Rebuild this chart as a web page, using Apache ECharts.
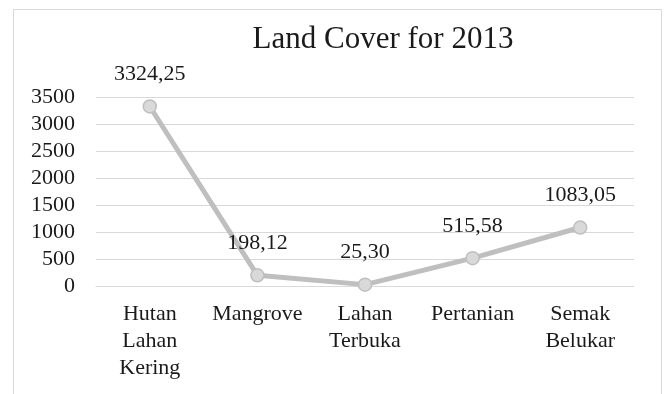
<!DOCTYPE html>
<html>
<head>
<meta charset="utf-8">
<script src="https://cdn.jsdelivr.net/npm/echarts@6/dist/echarts.min.js"></script>
<style>
  html, body { margin: 0; padding: 0; background: #fff; }
  #chart { width: 670px; height: 394px; }
</style>
</head>
<body>
<div id="chart"></div>
<script>
// Land cover areas for 2013
const categories = ['Hutan\nLahan\nKering', 'Mangrove', 'Lahan\nTerbuka', 'Pertanian', 'Semak\nBelukar'];
const areaValues = [3324.25, 198.12, 25.30, 515.58, 1083.05];
const yTicks = { min: 0, max: 3500, interval: 500 };

const FONT = '"Liberation Serif", "DejaVu Serif", serif';
const TEXT = '#1a1a1a';

const chart = echarts.init(document.getElementById('chart'), null, { renderer: 'canvas' });

chart.setOption({
  backgroundColor: '#ffffff',
  animation: false,
  graphic: [{
    type: 'rect',
    shape: { x: 13.5, y: 9.5, width: 648, height: 420 },
    style: { fill: 'none', stroke: '#d9d9d9', lineWidth: 1 },
    silent: true
  }],
  title: {
    text: 'Land Cover for 2013',
    left: 378,
    top: 19,
    textAlign: 'center',
    textStyle: { fontFamily: FONT, fontSize: 31, fontWeight: 'normal', color: TEXT }
  },
  grid: { left: 96, right: 36, top: 97, bottom: 108, containLabel: false },
  xAxis: {
    type: 'category',
    data: categories,
    boundaryGap: true,
    axisLine: { show: true, lineStyle: { color: '#d9d9d9', width: 1 } },
    axisTick: { show: false },
    axisLabel: {
      fontFamily: FONT, fontSize: 22, color: TEXT, lineHeight: 27,
      margin: 15, interval: 0
    }
  },
  yAxis: {
    type: 'value',
    min: yTicks.min,
    max: yTicks.max,
    interval: yTicks.interval,
    axisLine: { show: false },
    axisTick: { show: false },
    splitLine: { lineStyle: { color: '#d9d9d9', width: 1 } },
    axisLabel: {
      fontFamily: FONT, fontSize: 22, color: TEXT, margin: 21,
      formatter: v => String(v)
    }
  },
  series: [{
    type: 'line',
    data: areaValues,
    symbol: 'circle',
    symbolSize: 13,
    lineStyle: { color: '#bfbfbf', width: 5 },
    itemStyle: { color: '#d9d9d9', borderColor: '#bfbfbf', borderWidth: 1.5 },
    label: {
      show: true,
      position: 'top',
      distance: 14,
      fontFamily: FONT,
      fontSize: 22,
      color: TEXT,
      formatter: p => p.value.toFixed(2).replace('.', ',')
    }
  }]
});
</script>
</body>
</html>
